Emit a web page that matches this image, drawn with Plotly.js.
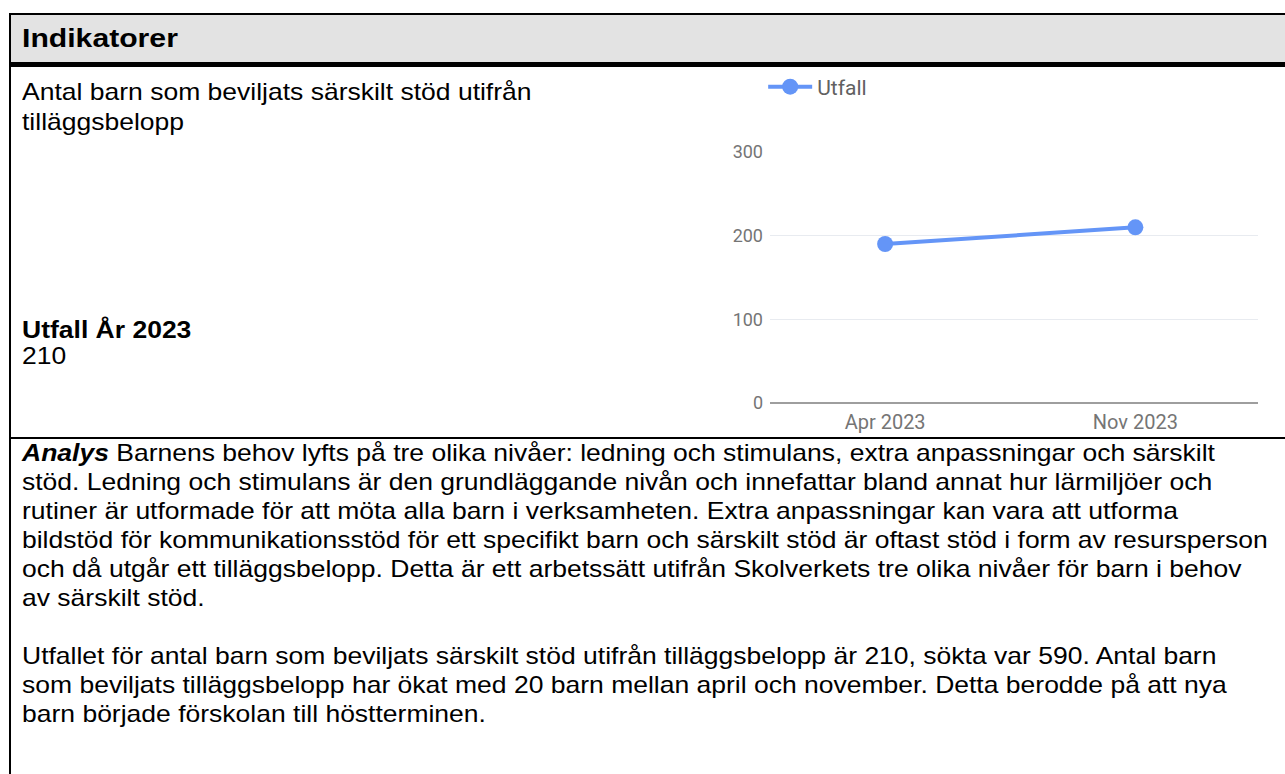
<!DOCTYPE html>
<html>
<head>
<meta charset="utf-8">
<script src="https://cdn.plot.ly/plotly-3.0.1.min.js"></script>
<style>
  html, body { margin:0; padding:0; width:1285px; height:774px; overflow:hidden; background:#fff; }
  body { position:relative; font-family:"Liberation Sans", Arial, sans-serif; color:#000; }
  .abs { position:absolute; }
  .line { white-space:nowrap; }
  .wide { transform-origin:0 0; }
</style>
</head>
<body>
<script>
// ---- data ----
const categories = ['Apr 2023', 'Nov 2023'];
const utfall = [190, 210];
const seriesName = 'Utfall';
const yTicks = [0, 100, 200, 300];
const headerText = 'Indikatorer';
const indicatorLines = ['Antal barn som beviljats särskilt stöd utifrån', 'tilläggsbelopp'];
const resultLabel = 'Utfall År 2023';
const resultValue = '210';
const analysLead = 'Analys';
const analysLines = [
  ' Barnens behov lyfts på tre olika nivåer: ledning och stimulans, extra anpassningar och särskilt',
  'stöd. Ledning och stimulans är den grundläggande nivån och innefattar bland annat hur lärmiljöer och',
  'rutiner är utformade för att möta alla barn i verksamheten. Extra anpassningar kan vara att utforma',
  'bildstöd för kommunikationsstöd för ett specifikt barn och särskilt stöd är oftast stöd i form av resursperson',
  'och då utgår ett tilläggsbelopp. Detta är ett arbetssätt utifrån Skolverkets tre olika nivåer för barn i behov',
  'av särskilt stöd.',
  '',
  'Utfallet för antal barn som beviljats särskilt stöd utifrån tilläggsbelopp är 210, sökta var 590. Antal barn',
  'som beviljats tilläggsbelopp har ökat med 20 barn mellan april och november. Detta berodde på att nya',
  'barn började förskolan till höstterminen.'
];
</script>

<!-- table borders -->
<div class="abs" style="left:9px; top:13px; width:1276px; height:2px; background:#000;"></div>
<div class="abs" style="left:11px; top:15px; width:1274px; height:47px; background:#e3e3e3;"></div>
<div class="abs" style="left:9px; top:62px; width:1276px; height:5px; background:#000;"></div>
<div class="abs" style="left:9px; top:437px; width:1276px; height:2px; background:#000;"></div>
<div class="abs" style="left:9px; top:13px; width:2px; height:761px; background:#000;"></div>

<div id="header" class="abs line wide" style="left:22px; top:22px; font-size:26px; line-height:32px; font-weight:bold; transform:scaleX(1.16);"></div>
<div id="indicator" class="abs wide" style="left:22px; top:77px; font-size:24px; line-height:30px; transform:scaleX(1.104);"></div>
<div id="result" class="abs wide" style="left:22px; top:317px; font-size:24px; line-height:26px; transform:scaleX(1.104);"></div>
<div id="analys" class="abs wide" style="left:22px; top:438px; font-size:24px; line-height:29px; transform:scaleX(1.104);"></div>

<div id="chart" class="abs" style="left:700px; top:67px; width:585px; height:370px;"></div>

<script>
document.getElementById('header').textContent = headerText;
document.getElementById('indicator').innerHTML = indicatorLines.map(l => '<div class="line">' + l + '</div>').join('');
document.getElementById('result').innerHTML = '<div class="line" style="font-weight:bold">' + resultLabel + '</div><div class="line">' + resultValue + '</div>';
document.getElementById('analys').innerHTML = analysLines.map((l, i) =>
  '<div class="line" style="height:29px">' + (i === 0 ? '<b><i>' + analysLead + '</i></b>' : '') + l + '</div>').join('');

const trace = {
  x: categories,
  y: utfall,
  type: 'scatter',
  mode: 'lines+markers',
  name: seriesName,
  line: { color: '#6495f7', width: 4 },
  marker: { color: '#6495f7', size: 16 },
  showlegend: true
};
const layout = {
  width: 585, height: 370,
  margin: { l: 70, r: 27, t: 85, b: 34, autoexpand: false },
  paper_bgcolor: 'rgba(0,0,0,0)',
  plot_bgcolor: 'rgba(0,0,0,0)',
  font: { family: 'Roboto, sans-serif', size: 18, color: '#757575' },
  showlegend: true,
  legend: { orientation: 'h', x: -0.014, xanchor: 'left', y: 1.259, yanchor: 'middle', itemwidth: 44,
            font: { size: 21, color: '#616161' } },
  xaxis: { type: 'category', showgrid: false, zeroline: false, showline: false, ticks: '', range: [-0.46, 1.49],
           tickfont: { size: 20 }, ticklabelstandoff: 5, fixedrange: true },
  yaxis: { range: [0, 300], tickvals: yTicks, showgrid: true, gridcolor: '#e8ebf0', gridwidth: 1.5,
           zeroline: true, zerolinecolor: '#9e9e9e', zerolinewidth: 1.5, showline: false, ticks: '', ticklabelstandoff: 6, fixedrange: true },
};
Plotly.newPlot('chart', [trace], layout, { displayModeBar: false, staticPlot: true });
</script>
</body>
</html>
